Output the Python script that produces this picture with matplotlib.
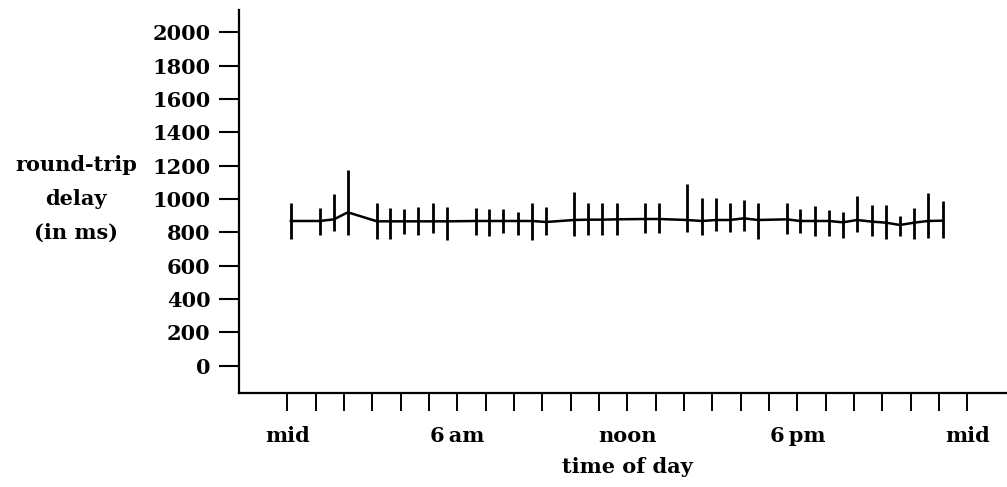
import matplotlib
matplotlib.use("Agg")
import numpy as np
import matplotlib.pyplot as plt

# time of day (hours after midnight) for each measurement
hours = [0.13, 1.15, 1.65, 2.14, 3.17, 3.63, 4.12, 4.61, 5.14, 5.63,
         6.66, 7.12, 7.62, 8.15, 8.65, 9.14, 10.12, 10.62, 11.11, 11.64,
         12.63, 13.12, 14.11, 14.64, 15.13, 15.62, 16.12, 16.61, 17.64, 18.09,
         18.62, 19.12, 19.61, 20.11, 20.64, 21.13, 21.62, 22.12, 22.61, 23.14]

# mean round-trip delay (ms)
delay_mean = [868, 868, 878, 920, 866, 866, 866, 866, 866, 866,
              868, 868, 868, 868, 868, 862, 874, 876, 876, 878,
              880, 880, 874, 868, 874, 874, 884, 874, 878, 868,
              868, 868, 860, 874, 864, 858, 844, 858, 868, 870]

# bottom / top of each vertical bar (ms)
delay_low = [758, 784, 810, 784, 758, 758, 790, 784, 794, 754,
             784, 778, 794, 784, 754, 784, 778, 784, 784, 784,
             794, 794, 804, 784, 808, 804, 808, 758, 790, 794,
             778, 778, 768, 804, 778, 758, 778, 758, 764, 768]
delay_high = [978, 944, 1030, 1174, 974, 944, 938, 950, 974, 954,
              944, 938, 938, 924, 974, 954, 1040, 974, 974, 974,
              974, 978, 1088, 1004, 1004, 974, 994, 974, 974, 940,
              958, 934, 924, 1018, 964, 964, 898, 944, 1034, 988]

y_ticks = list(range(0, 2001, 200))
x_major = [0, 6, 12, 18, 24]
x_labels = ["mid", "6\u2009am", "noon", "6\u2009pm", "mid"]
ylabel_lines = ["round-trip", "delay", "(in ms)"]

plt.rcParams['font.family'] = ['DejaVu Serif']
plt.rcParams['font.size'] = 15
plt.rcParams['font.weight'] = 'bold'

W, H = 1007, 487
fig = plt.figure(figsize=(W / 100, H / 100), dpi=100)
ax = fig.add_axes([239 / W, (H - 393) / H, 1 - 239 / W, (393 - 10) / H])

ax.vlines(hours, delay_low, delay_high, colors='black', linewidth=2.0)
ax.plot(hours, delay_mean, color='black', linewidth=1.8)

ax.set_xlim(-1.7, 25.4)
ax.set_ylim(-164, 2134)

for side in ['top', 'right']:
    ax.spines[side].set_visible(False)
for side in ['left', 'bottom']:
    ax.spines[side].set_linewidth(1.6)

ax.set_yticks(y_ticks)
ax.set_yticklabels([str(v) for v in y_ticks])
ax.tick_params(axis='y', direction='out', length=14.4, width=1.5, pad=6, labelsize=15)

ax.set_xticks(x_major)
ax.set_xticklabels(x_labels)
ax.set_xticks(range(25), minor=True)
ax.tick_params(axis='x', which='both', direction='out', length=13, width=1.4)
ax.tick_params(axis='x', which='major', pad=11, labelsize=15)

fig.text(627 / W, 1 - 467 / H, "time of day", ha='center', va='center', fontsize=15)
for i, line in enumerate(ylabel_lines):
    fig.text(76 / W, 1 - (165 + 34 * i) / H, line, ha='center', va='center', fontsize=15)

fig.savefig("out.png", dpi=100)
